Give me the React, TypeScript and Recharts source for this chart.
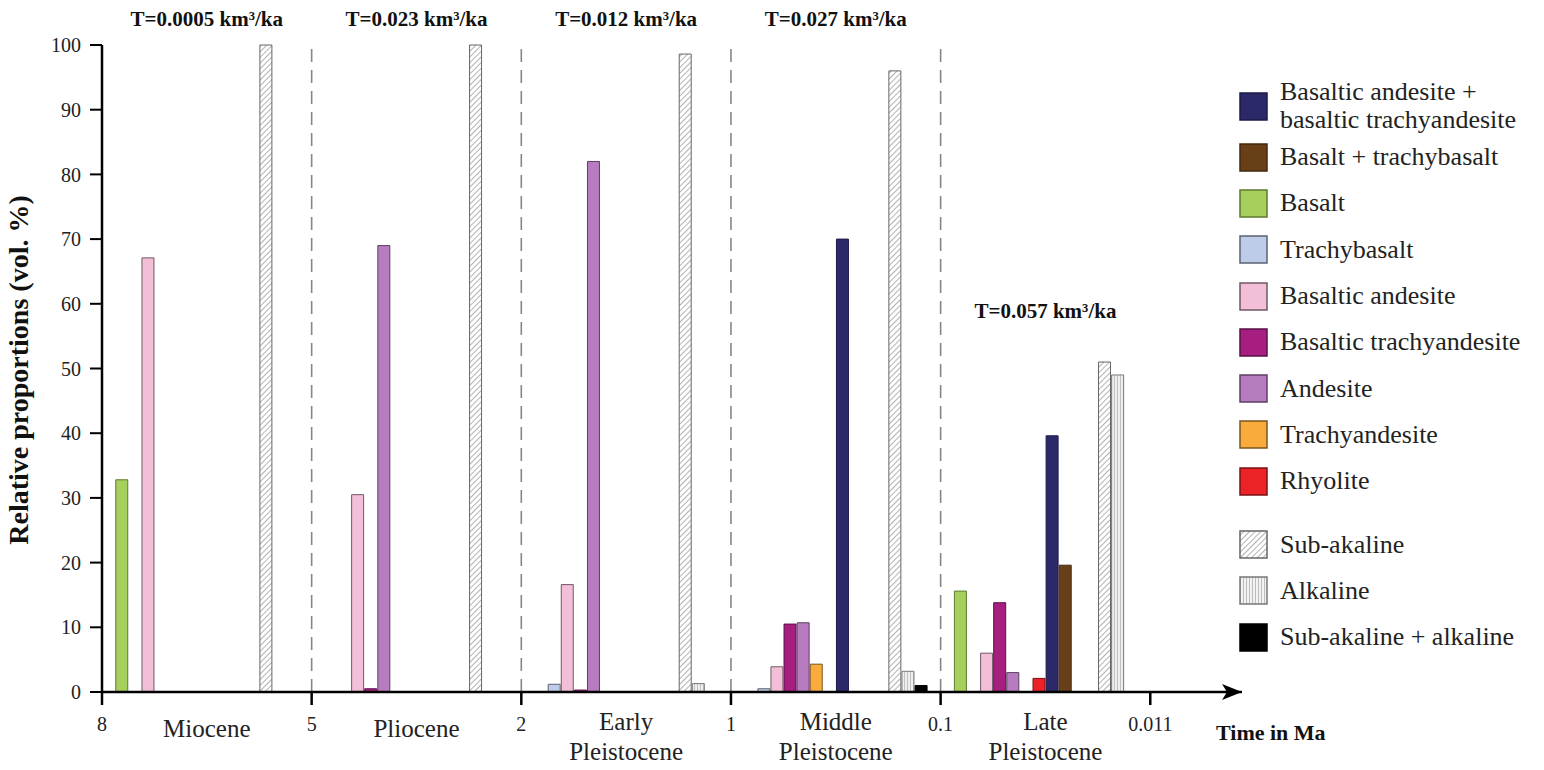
import React from 'react';
import { BarChart, Bar, XAxis, YAxis, ReferenceLine } from 'recharts';

const FONT = '"Liberation Serif", "Times New Roman", Times, serif';

// periods (left to right) and the ages at their boundaries
const periods = [['Miocene'], ['Pliocene'], ['Early', 'Pleistocene'], ['Middle', 'Pleistocene'], ['Late', 'Pleistocene']];
const boundaryLabels = ['8', '5', '2', '1', '0.1', '0.011'];
const rates = ['0.0005', '0.023', '0.012', '0.027', '0.057'];
const yTicks = [0, 10, 20, 30, 40, 50, 60, 70, 80, 90, 100];

// vol. % per period: Miocene, Pliocene, Early, Middle, Late Pleistocene
const basalticAndesiteMix = [null, null, null, 70, 39.6];
const basaltMix = [null, null, null, null, 19.6];
const basalt = [32.8, null, null, null, 15.6];
const trachybasalt = [null, null, 1.2, 0.5, null];
const basalticAndesite = [67.1, 30.5, 16.6, 3.9, 6.0];
const basalticTrachyandesite = [null, 0.5, 0.3, 10.5, 13.8];
const andesite = [null, 69, 82, 10.7, 3.0];
const trachyandesite = [null, null, null, 4.3, null];
const rhyolite = [null, null, null, null, 2.1];
const subAlkaline = [100, 100, 98.6, 96, 51];
const alkaline = [null, null, 1.3, 3.2, 49];
const subAlkalineAlkaline = [null, null, null, 1.0, null];

type Series = {
  key: string;
  name: string[];
  values: (number | null)[];
  fill: string;
  stroke: string;
  slot: number; // position of the bar inside a period
  pattern?: 'hatch' | 'vlines';
  gapBefore?: boolean;
};

const series: Series[] = [
  { key: 'bam', name: ['Basaltic andesite +', 'basaltic trachyandesite'], values: basalticAndesiteMix, fill: '#2b2968', stroke: '#1d1b48', slot: 8 },
  { key: 'btb', name: ['Basalt + trachybasalt'], values: basaltMix, fill: '#683f17', stroke: '#44290e', slot: 9 },
  { key: 'bas', name: ['Basalt'], values: basalt, fill: '#a7cf5c', stroke: '#5d7a2e', slot: 1 },
  { key: 'tb', name: ['Trachybasalt'], values: trachybasalt, fill: '#bdcde9', stroke: '#5c6270', slot: 2 },
  { key: 'ba', name: ['Basaltic andesite'], values: basalticAndesite, fill: '#f3bed8', stroke: '#6e5a64', slot: 3 },
  { key: 'bta', name: ['Basaltic trachyandesite'], values: basalticTrachyandesite, fill: '#a61f80', stroke: '#5a1045', slot: 4 },
  { key: 'and', name: ['Andesite'], values: andesite, fill: '#b77cbf', stroke: '#5e3f63', slot: 5 },
  { key: 'ta', name: ['Trachyandesite'], values: trachyandesite, fill: '#f9ac3b', stroke: '#7a5520', slot: 6 },
  { key: 'rhy', name: ['Rhyolite'], values: rhyolite, fill: '#ec2227', stroke: '#7a1214', slot: 7 },
  { key: 'sub', name: ['Sub-akaline'], values: subAlkaline, fill: 'url(#hatch)', stroke: '#666', slot: 12, pattern: 'hatch', gapBefore: true },
  { key: 'alk', name: ['Alkaline'], values: alkaline, fill: 'url(#vlines)', stroke: '#777', slot: 13, pattern: 'vlines' },
  { key: 'mix', name: ['Sub-akaline + alkaline'], values: subAlkalineAlkaline, fill: '#000', stroke: '#000', slot: 14 },
];

// layout
const W = 1544;
const H = 770;
const PLOT_L = 102;
const PLOT_T = 45;
const PLOT_W = 1140;
const PLOT_H = 647;
const SLOTS = 16; // slots per period
const TOTAL_SLOTS = 87; // 5 periods + room up to the arrow
const SLOT_W = PLOT_W / TOTAL_SLOTS;
const SEG_W = SLOT_W * SLOTS;
const AXIS_Y = PLOT_T + PLOT_H;

const data = Array.from({ length: TOTAL_SLOTS }, (_, i) => {
  const seg = Math.floor(i / SLOTS);
  const pos = i % SLOTS;
  const row: Record<string, number | null> = { slot: i };
  series.forEach((s) => {
    if (seg < periods.length && pos === s.slot && s.values[seg] != null) row[s.key] = s.values[seg];
  });
  return row;
});

const SlotTick = (props: any) => {
  const { x, y, payload } = props;
  const slot = payload.value as number;
  const half = payload.offset != null ? payload.offset : SLOT_W / 2;
  const edge = x - half;
  const seg = slot / SLOTS;
  if (slot % SLOTS === 0 && seg < boundaryLabels.length) {
    return (
      <text x={edge} y={y + 39} textAnchor="middle" fontFamily={FONT} fontSize={20} fill="#222">
        {boundaryLabels[seg]}
      </text>
    );
  }
  if (slot % SLOTS === SLOTS / 2) {
    const lines = periods[Math.floor(slot / SLOTS)];
    if (!lines) return null;
    const base = lines.length === 1 ? 45 : 38;
    return (
      <text textAnchor="middle" fontFamily={FONT} fontSize={25} fill="#222">
        {lines.map((l, i) => (
          <tspan key={i} x={edge} y={y + base + i * 30}>
            {l}
          </tspan>
        ))}
      </text>
    );
  }
  return null;
};

const Swatch = ({ s }: { s: Series }) => (
  <svg width={29} height={29} style={{ flex: 'none' }}>
    <defs>
      <pattern id="lg-hatch" width="4" height="4" patternUnits="userSpaceOnUse" patternTransform="rotate(45)">
        <rect width="4" height="4" fill="#fff" />
        <line x1="0" y1="0" x2="0" y2="4" stroke="#7e7e7e" strokeWidth="1.2" />
      </pattern>
      <pattern id="lg-vlines" width="3" height="10" patternUnits="userSpaceOnUse">
        <rect width="3" height="10" fill="#f2f2f2" />
        <line x1="1.5" y1="0" x2="1.5" y2="10" stroke="#bdbdbd" strokeWidth="1" />
      </pattern>
    </defs>
    <rect
      x={1}
      y={1}
      width={27}
      height={27}
      fill={s.pattern ? `url(#lg-${s.pattern})` : s.fill}
      stroke={s.stroke}
      strokeWidth={1.5}
    />
  </svg>
);

const LegendBox = () => (
  <div style={{ position: 'absolute', left: 1239, top: 78, fontFamily: FONT, fontSize: 26, color: '#222' }}>
    {series.map((s, i) => (
      <div
        key={s.key}
        style={{
          display: 'flex',
          alignItems: 'center',
          height: i === 0 ? 56 : 46.3,
          marginTop: s.gapBefore ? 17 : 0,
        }}
      >
        <Swatch s={s} />
        <div style={{ marginLeft: 12, lineHeight: '28px', whiteSpace: 'nowrap' }}>
          {s.name.map((n, j) => (
            <React.Fragment key={j}>
              {j > 0 && <br />}
              {n}
            </React.Fragment>
          ))}
        </div>
      </div>
    ))}
  </div>
);

export default function App() {
  return (
    <div style={{ position: 'absolute', left: 0, top: 0, width: W, height: H, background: '#fff' }}>
      <BarChart
        width={W}
        height={H}
        data={data}
        margin={{ top: PLOT_T, right: W - PLOT_L - PLOT_W, bottom: 8, left: PLOT_L - 60 }}
        barCategoryGap="5%"
      >
        <defs>
          <pattern id="hatch" width="4" height="4" patternUnits="userSpaceOnUse" patternTransform="rotate(45)">
            <rect width="4" height="4" fill="#fff" />
            <line x1="0" y1="0" x2="0" y2="4" stroke="#7e7e7e" strokeWidth="1.2" />
          </pattern>
          <pattern id="vlines" width="3" height="10" patternUnits="userSpaceOnUse">
            <rect width="3" height="10" fill="#efefef" />
            <line x1="1.5" y1="0" x2="1.5" y2="10" stroke="#c2c2c2" strokeWidth="1" />
          </pattern>
          <marker id="arrow" viewBox="0 0 20 16" refX="20" refY="8" markerWidth="20" markerHeight="16" markerUnits="userSpaceOnUse" orient="auto">
            <path d="M0,0 L20,8 L0,16 L5,8 Z" fill="#000" />
          </marker>
        </defs>
        <XAxis
          dataKey="slot"
          type="category"
          height={70}
          interval={0}
          tickLine={false}
          tickSize={0}
          tickMargin={0}
          tick={<SlotTick />}
          axisLine={{ stroke: '#000', strokeWidth: 2.5, markerEnd: 'url(#arrow)' }}
        />
        <YAxis
          width={60}
          domain={[0, 100]}
          ticks={yTicks}
          interval={0}
          tickSize={12}
          tickMargin={9}
          tick={{ fill: '#222', fontSize: 20, fontFamily: FONT }}
          tickLine={{ stroke: '#000', strokeWidth: 2 }}
          axisLine={{ stroke: '#000', strokeWidth: 2.5 }}
        />
        {[1, 2, 3, 4].map((k) => (
          <ReferenceLine
            key={k}
            x={k * SLOTS}
            position="start"
            stroke="#868686"
            strokeWidth={1.6}
            strokeDasharray="13 8"
          />
        ))}
        {series.map((s) => (
          <Bar
            key={s.key}
            dataKey={s.key}
            name={s.name.join(' ')}
            stackId="a"
            fill={s.fill}
            stroke={s.stroke}
            strokeWidth={1}
            isAnimationActive={false}
          />
        ))}
      </BarChart>
      <svg width={W} height={H} style={{ position: 'absolute', left: 0, top: 0, pointerEvents: 'none' }}>
        {boundaryLabels.map((b, k) => (
          <line
            key={b}
            x1={PLOT_L + SEG_W * k}
            x2={PLOT_L + SEG_W * k}
            y1={AXIS_Y - 1}
            y2={AXIS_Y + 13}
            stroke="#000"
            strokeWidth={2.5}
          />
        ))}
        <text
          transform={`translate(28, 370) rotate(-90)`}
          textAnchor="middle"
          fontFamily={FONT}
          fontSize={28}
          fontWeight="bold"
          fill="#111"
        >
          Relative proportions (vol. %)
        </text>
        {rates.map((r, k) => (
          <text
            key={r}
            x={PLOT_L + SEG_W * (k + 0.5)}
            y={k === rates.length - 1 ? 318 : 26}
            textAnchor="middle"
            fontFamily={FONT}
            fontSize={21}
            fontWeight="bold"
            fill="#111"
          >
            {`T=${r} km³/ka`}
          </text>
        ))}
        <text x={1216} y={740} fontFamily={FONT} fontSize={22} fontWeight="bold" fill="#111">
          Time in Ma
        </text>
      </svg>
      <LegendBox />
    </div>
  );
}
